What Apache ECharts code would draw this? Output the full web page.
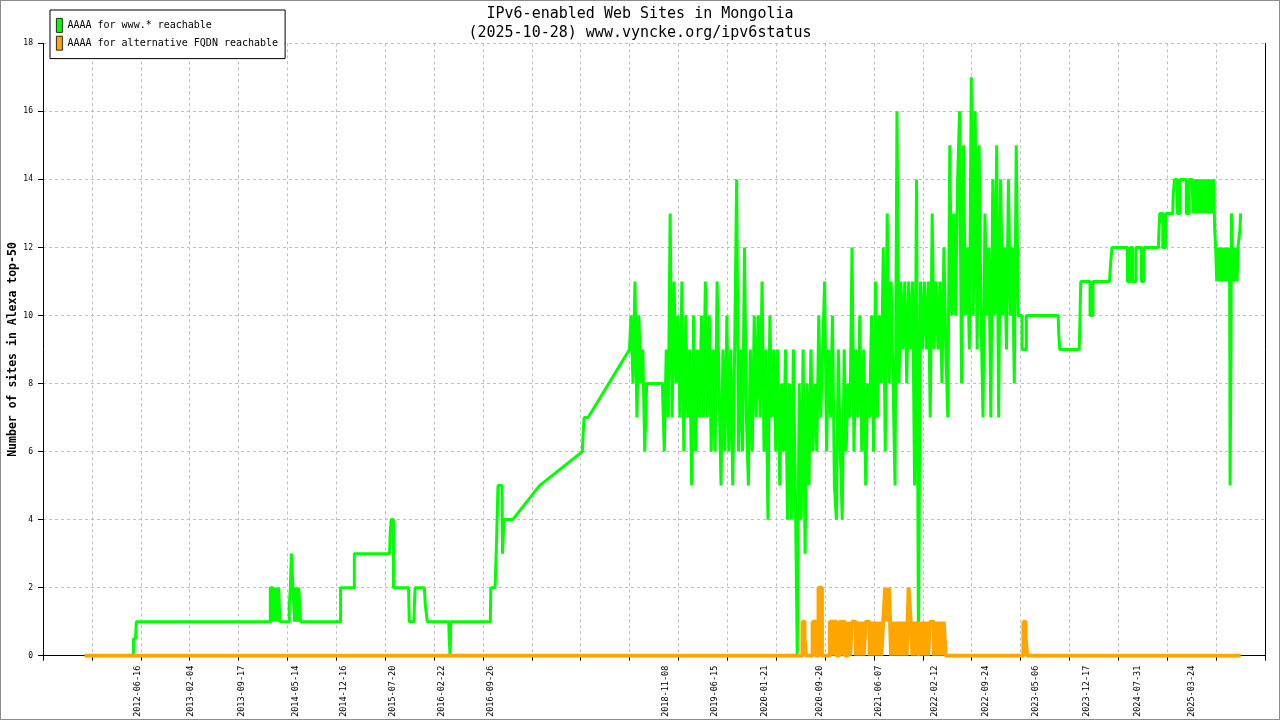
<!DOCTYPE html>
<html>
<head>
<meta charset="utf-8">
<script src="https://cdn.jsdelivr.net/npm/echarts@6/dist/echarts.min.js"></script>
<style>
html,body{margin:0;padding:0;background:#fff;}
#chart{width:1280px;height:720px;}
</style>
</head>
<body>
<div id="chart"></div>
<script>
// x values are days counted from 2011-11-25
const EPOCH = Date.UTC(2011, 10, 25);
const TICK_DAYS = 216.4;

const tickLabels = ['2012-06-16','2013-02-04','2013-09-17','2014-05-14','2014-12-16','2015-07-20',
  '2016-02-22','2016-09-26','2018-11-08','2019-06-15','2020-01-21','2020-09-20','2021-06-07',
  '2022-02-12','2022-09-24','2023-05-06','2023-12-17','2024-07-31','2025-03-24'];

const seriesNames = ['AAAA for www.* reachable', 'AAAA for alternative FQDN reachable'];

// ---- green: www.* reachable ----
const greenEarly = [[-32,0],[184,0],[184,0.5],[193,0.5],[197,1],[790,1],[790,2],[801,2],[801,1],[805,1],[805,2],
  [812,2],[812,1],[816,1],[816,2],[823,2],[823,1],[827,1],[827,2],[833,2],[833,1],[874,1],[874,1.5],[879,2],
  [883,3],[890,3],[890,2],[898,2],[898,1],[903,1],[903,2],[911,2],[911,1],[916,1],[916,2],[924,2],[924,1],
  [1101,1],[1101,2],[1162,2],[1162,3],[1318,3],[1320,3.5],[1325,4],[1335,4],[1335,2],[1402,2],[1405,1],
  [1426,1],[1428,1.5],[1431,2],[1472,2],[1476,1.5],[1485,1],[1580,1],[1582,0.5],[1586,0],[1589,1],[1764,1],
  [1766,2],[1785,2],[1790,3],[1794,4],[1798,5],[1816,5],[1818,3],[1822,3],[1824,4],[1863,4]];

// sparse period (no daily samples): straight segments
const greenGap = [[1982,5],[2171,6],[2175,6.5],[2179,7],[2197,7],[2380,9]];

const greenDenseStart = 2387, greenDenseEnd = 4101;
const greenDense = [
  10,8,11,7,10,8,9,6,
  8,8,8,8,8,8,8,8,8,
  6,9,7,13,7,11,8,
  10,7,11,6,10,7,9,5,10,6,9,7,10,7,11,7,10,6,9,6,11,
  8,5,9,6,10,6,9,5,9,14,6,9,6,12,7,5,9,6,10,7,
  10,7,11,6,9,4,10,7,9,6,
  9,5,8,6,9,4,8,4,9,5,0,8,
  4,9,3,8,5,9,6,8,
  6,10,7,9,11,6,9,7,10,5,4,9,6,4,9,6,8,7,12,6,9,7,10,6,9,5,8,7,10,6,
  11,7,10,8,12,6,13,8,
  11,8,5,16,8,11,9,
  11,8,11,9,11,5,14,0,11,9,11,
  9,11,7,13,9,11,9,11,8,12,9,
  7,15,10,13,10,14,
  16,8,15,10,12,9,
  17,10,16,9,15,
  10,7,13,10,12,7,14,
  10,15,7,14,
  10,12,9,14,10,12,8,15,10];

const greenLate = [[4118,10],[4118,9],[4137,9],[4137,10],[4278,10],[4280,9.5],[4285,9],[4371,9],[4373,9.5],
  [4378,11],[4419,11],[4419,10],[4432,10],[4432,11],[4505,11],[4510,11.5],[4516,12],[4585,12],[4585,11],
  [4598,11],[4598,12],[4607,12],[4607,11],[4622,11],[4622,12],[4646,12],[4646,11],[4657,11],[4657,12],
  [4722,12],[4724,12.5],[4728,13],[4741,13],[4741,12],[4754,12],[4754,13],[4785,13],[4787,13.5],[4793,14],
  [4806,14],[4806,13],[4817,13],[4817,14],[4845,14],[4845,13],[4858,13],[4858,14],[4871,14]];

const greenBurst14Start = 4871, greenBurst14End = 4966;
const greenBurst14 = [14,13,14,13,14,13,14,13,14,13,14,13,14,13,14,13,14,13,14,13,14,13,14];

const greenStepDown = [[4968,14],[4971,12.5],[4975,12],[4980,11],[4983,11]];

const greenBurst12Start = 4983, greenBurst12End = 5035;
const greenBurst12 = [12,11,12,11,12,11,12,11,12,11,12,11,12];

const greenEnd = [[5037,11],[5039,5],[5043,9],[5045,13],[5049,12],[5052,11],[5056,12],[5060,11],[5064,12],
  [5070,11],[5074,12],[5080,12],[5082,12.5],[5086,13]];

// ---- orange: alternative FQDN reachable ----
const orangeEarly = [[-32,0],[3146,0],[3146,1],[3155,1],[3155,0.5],[3162,0.5],[3162,0],[3191,0],[3191,1],
  [3206,1],[3206,0],[3217,0],[3217,2],[3232,2],[3232,0],[3267,0],[3267,1],[3280,1],[3280,0],[3286,0],
  [3286,1],[3297,1],[3297,0],[3310,0],[3310,1],[3319,1],[3319,0],[3325,0],[3325,1],[3334,1],[3334,0],[3348,0]];

const orangeDenseStart = 3348, orangeDenseEnd = 3780;
const orangeDense = [1,0,1,1,0,1,0,1,0,1, 1,0,1,0,1,0,1,0,1,2, 1,2,0,1,0,1,0,1,0,1,
  0,2,1,0,1,0,1,0,1,0, 1,0,1,1,0,1,0,1,0,1, 0];

const orangeLate = [[3789,0],[4124,0],[4124,1],[4134,1],[4134,0.5],[4141,0.5],[4141,0],[5086,0]];

// ---- helpers ----
function dayNum(s) {
  const p = s.split('-').map(Number);
  return (Date.UTC(p[0], p[1] - 1, p[2]) - EPOCH) / 86400000;
}
function dayToStr(v) {
  return new Date(EPOCH + Math.round(v) * 86400000).toISOString().slice(0, 10);
}
// sample-and-hold: each reading is kept until the next reading
function holdSteps(start, end, vals) {
  const step = (end - start) / (vals.length - 1);
  const out = [];
  vals.forEach((v, i) => {
    out.push([start + i * step, v]);
    out.push([start + (i + 1) * step, v]);
  });
  return out;
}

const greenData = [].concat(
  greenEarly,
  greenGap,
  holdSteps(greenDenseStart, greenDenseEnd, greenDense),
  greenLate,
  holdSteps(greenBurst14Start, greenBurst14End, greenBurst14),
  greenStepDown,
  holdSteps(greenBurst12Start, greenBurst12End, greenBurst12),
  greenEnd);

const orangeData = [].concat(
  orangeEarly,
  holdSteps(orangeDenseStart, orangeDenseEnd, orangeDense),
  orangeLate);

const FONT = 'DejaVu Sans Mono';
const gridLine = { show: true, lineStyle: { color: '#c0c0c0', width: 1, type: [3, 3] } };
const GREEN = '#00ff00', ORANGE = '#ffa500';

const chart = echarts.init(document.getElementById('chart'), null, { renderer: 'canvas' });
chart.setOption({
  animation: false,
  backgroundColor: '#ffffff',
  textStyle: { fontFamily: FONT },
  title: {
    text: 'IPv6-enabled Web Sites in Mongolia\n(2025-10-28) www.vyncke.org/ipv6status',
    left: 'center', top: 5, padding: 0,
    textStyle: { fontFamily: FONT, fontSize: 15, fontWeight: 'normal', color: '#000', lineHeight: 19, align: 'center' }
  },
  legend: {
    orient: 'vertical', left: 50, top: 10,
    padding: [8, 7, 8, 6],
    itemWidth: 6, itemHeight: 14, itemGap: 3,
    icon: 'rect',
    borderColor: '#000', borderWidth: 1, backgroundColor: '#fff',
    itemStyle: { borderColor: '#000', borderWidth: 0.8 },
    textStyle: { fontFamily: FONT, fontSize: 10, color: '#000', padding: 0 },
    data: seriesNames
  },
  grid: { left: 43, right: 15, top: 43.3, bottom: 64.3, containLabel: false, outerBoundsMode: 'none' },
  xAxis: {
    type: 'value',
    min: -TICK_DAYS, max: 24 * TICK_DAYS, interval: TICK_DAYS,
    axisLine: { show: true, onZero: false, lineStyle: { color: '#000', width: 1 } },
    axisTick: { show: true, length: 5, lineStyle: { color: '#000' } },
    axisLabel: {
      show: true, rotate: 90, margin: 10,
      customValues: tickLabels.map(dayNum),
      formatter: v => dayToStr(v),
      fontFamily: FONT, fontSize: 8.5, color: '#000'
    },
    splitLine: gridLine
  },
  yAxis: [{
    type: 'value', min: 0, max: 18, interval: 2,
    name: 'Number of sites in Alexa top-50',
    nameLocation: 'middle', nameGap: 24, nameMoveOverlap: false,
    nameTextStyle: { fontFamily: FONT, fontSize: 11.5, fontWeight: 'bold', color: '#000' },
    axisLine: { show: true, onZero: false, lineStyle: { color: '#000', width: 1 } },
    axisTick: { show: true, length: 5, lineStyle: { color: '#000' } },
    axisLabel: { margin: 10, fontFamily: FONT, fontSize: 8, color: '#000' },
    splitLine: gridLine
  }, {
    type: 'value', min: 0, max: 18, interval: 2, position: 'right',
    axisLine: { show: true, onZero: false, lineStyle: { color: '#000', width: 1 } },
    axisTick: { show: false }, axisLabel: { show: false }, splitLine: { show: false }
  }],
  series: [{
    name: seriesNames[0], type: 'line', data: greenData,
    showSymbol: false, symbol: 'none', color: GREEN,
    lineStyle: { color: GREEN, width: 3 },
    silent: true, z: 2
  }, {
    name: seriesNames[1], type: 'line', data: orangeData,
    showSymbol: false, symbol: 'none', color: ORANGE,
    lineStyle: { color: ORANGE, width: 4 },
    silent: true, z: 3
  }],
  graphic: [{
    type: 'rect', silent: true, z: 100,
    shape: { x: 0, y: 0, width: 1280, height: 720 },
    style: { fill: 'none', stroke: '#8c8c8c', lineWidth: 2 }
  }]
});
</script>
</body>
</html>
